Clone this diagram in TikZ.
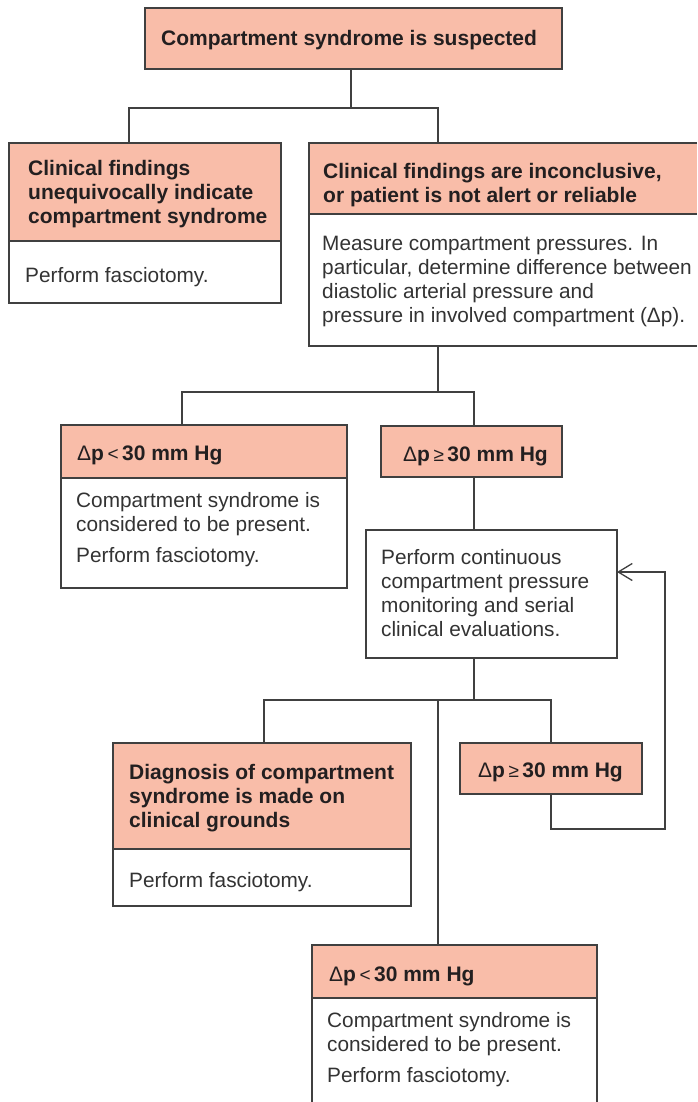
\documentclass[tikz,border=0pt]{standalone}
\usepackage{fontspec}
\setmainfont{Liberation Sans}
\usetikzlibrary{arrows.meta}
\definecolor{salmon}{HTML}{F9BDA9}
\definecolor{edge}{HTML}{404040}
\definecolor{ink}{HTML}{231F20}
\definecolor{bodyink}{HTML}{333333}
\newcommand\dlt{{\mdseries Δ}p}
\newcommand\lessop{\,{\mdseries\fontsize{19}{24}\selectfont <}\,}
\newcommand\geqop{\,{\mdseries\fontsize{19}{24}\selectfont ≥}\,}
\tikzset{
  panel/.style={line width=1.3pt, anchor=north west, inner sep=0pt, outer sep=0pt},
  head/.style={panel, draw=edge, fill=salmon},
  plain/.style={panel, draw=edge, fill=white},
  headfill/.style={panel, fill=salmon},
  plainfill/.style={panel, fill=white},
  headtext/.style={anchor=north west, align=left, inner sep=0pt, text=ink,
    font=\bfseries\fontsize{21}{24}\selectfont},
  bodytext/.style={anchor=north west, align=left, inner sep=0pt, text=bodyink,
    font=\fontsize{20.8}{24}\selectfont},
  link/.style={draw=edge, line width=1.3pt},
}
\begin{document}
\begin{tikzpicture}[x=1pt,y=-1pt]
\useasboundingbox[fill=white] (0,0) rectangle (697,1102);

% starting point
\node[head, minimum width=417pt, minimum height=61pt] (top) at (145,8) {};
\node[headtext] (topT) at ([xshift=16pt,yshift=-22pt]top.north west) {Compartment syndrome is suspected};

% clear clinical picture
\node[plain, minimum width=272pt, minimum height=62pt] (aB) at (9,241) {};
\node[head, minimum width=272pt, minimum height=98pt] (aH) at (9,143) {};
\node[headtext] (aHT) at ([xshift=19pt,yshift=-17pt]aH.north west) {Clinical findings\\unequivocally indicate\\compartment syndrome};
\node[bodytext] (aBT) at ([xshift=16pt,yshift=-26pt]aB.north west) {Perform fasciotomy.};

% inconclusive findings: box runs off the right edge
\node[plainfill, minimum width=388pt, minimum height=132pt] (bB) at (309,214) {};
\node[headfill, minimum width=388pt, minimum height=71pt] (bH) at (309,143) {};
\draw[link] (bH.north east) -- (bH.north west) -- (bB.south west) -- (bB.south east);
\draw[link] (bH.south west) -- (bH.south east);
\node[headtext] (bHT) at ([xshift=14pt,yshift=-20pt]bH.north west) {Clinical findings are inconclusive,\\or patient is not alert or reliable};
\node[bodytext] (bBT) at ([xshift=13pt,yshift=-22pt]bB.north west) {Measure compartment pressures. In\\particular, determine difference between\\diastolic arterial pressure and\\pressure in involved compartment (Δp).};

% first pressure split
\node[plain, minimum width=286pt, minimum height=110pt] (cB) at (61,478) {};
\node[head, minimum width=286pt, minimum height=53pt] (cH) at (61,425) {};
\node[headtext] (cHT) at ([xshift=16pt,yshift=-21pt]cH.north west) {\dlt\lessop30 mm Hg};
\node[bodytext] (cBT) at ([xshift=15pt,yshift=-14pt]cB.north west) {Compartment syndrome is\\considered to be present.\\[7pt]Perform fasciotomy.};

\node[head, minimum width=181pt, minimum height=51pt] (dH) at (381,426) {};
\node[headtext] (dHT) at ([xshift=22pt,yshift=-21pt]dH.north west) {\dlt\geqop30 mm Hg};

% monitoring
\node[plain, minimum width=251pt, minimum height=128pt] (eB) at (366,530) {};
\node[bodytext] (eBT) at ([xshift=15pt,yshift=-19pt]eB.north west) {Perform continuous\\compartment pressure\\monitoring and serial\\clinical evaluations.};

% outcomes of monitoring
\node[plain, minimum width=298pt, minimum height=57pt] (fB) at (113,849) {};
\node[head, minimum width=298pt, minimum height=106pt] (fH) at (113,743) {};
\node[headtext] (fHT) at ([xshift=16pt,yshift=-21pt]fH.north west) {Diagnosis of compartment\\syndrome is made on\\clinical grounds};
\node[bodytext] (fBT) at ([xshift=16pt,yshift=-23pt]fB.north west) {Perform fasciotomy.};

\node[head, minimum width=182pt, minimum height=51pt] (hH) at (460,743) {};
\node[headtext] (hHT) at ([xshift=18pt,yshift=-20pt]hH.north west) {\dlt\geqop30 mm Hg};

% last box runs off the bottom edge
\node[plainfill, minimum width=285pt, minimum height=104pt] (gB) at (312,998) {};
\node[headfill, minimum width=285pt, minimum height=53pt] (gH) at (312,945) {};
\draw[link] (gB.south west) -- (gH.north west) -- (gH.north east) -- (gB.south east);
\draw[link] (gH.south west) -- (gH.south east);
\node[headtext] (gHT) at ([xshift=17pt,yshift=-22pt]gH.north west) {\dlt\lessop30 mm Hg};
\node[bodytext] (gBT) at ([xshift=15pt,yshift=-14pt]gB.north west) {Compartment syndrome is\\considered to be present.\\[7pt]Perform fasciotomy.};

% connectors
\coordinate (j1) at (351,108);
\coordinate (j2) at (438,392);
\coordinate (j3) at (474,700);
\coordinate (j4) at (438,700);
\coordinate (loopR) at (665,572);

\draw[link] (top.south -| j1) -- (j1);
\draw[link] ([xshift=120pt]aH.north west) |- (j1) -| ([xshift=129pt]bH.north west);

\draw[link] ([xshift=129pt]bB.south west) -- (j2);
\draw[link] ([xshift=121pt]cH.north west) |- (j2) -| ([xshift=93pt]dH.north west);

\draw[link] ([xshift=93pt]dH.south west) -- ([xshift=108pt]eB.north west);

\draw[link] ([xshift=108pt]eB.south west) -- (j3);
\draw[link] ([xshift=151pt]fH.north west) |- (j3) -| ([xshift=91pt]hH.north west);
\draw[link] ([xshift=126pt]gH.north west) -- (j4);

\draw[link, -{Straight Barb[length=14pt,width=17pt]}]
  ([xshift=91pt]hH.south west) -- ++(0,35) -| (loopR) -- ([yshift=-42pt]eB.north east);
\end{tikzpicture}
\end{document}
